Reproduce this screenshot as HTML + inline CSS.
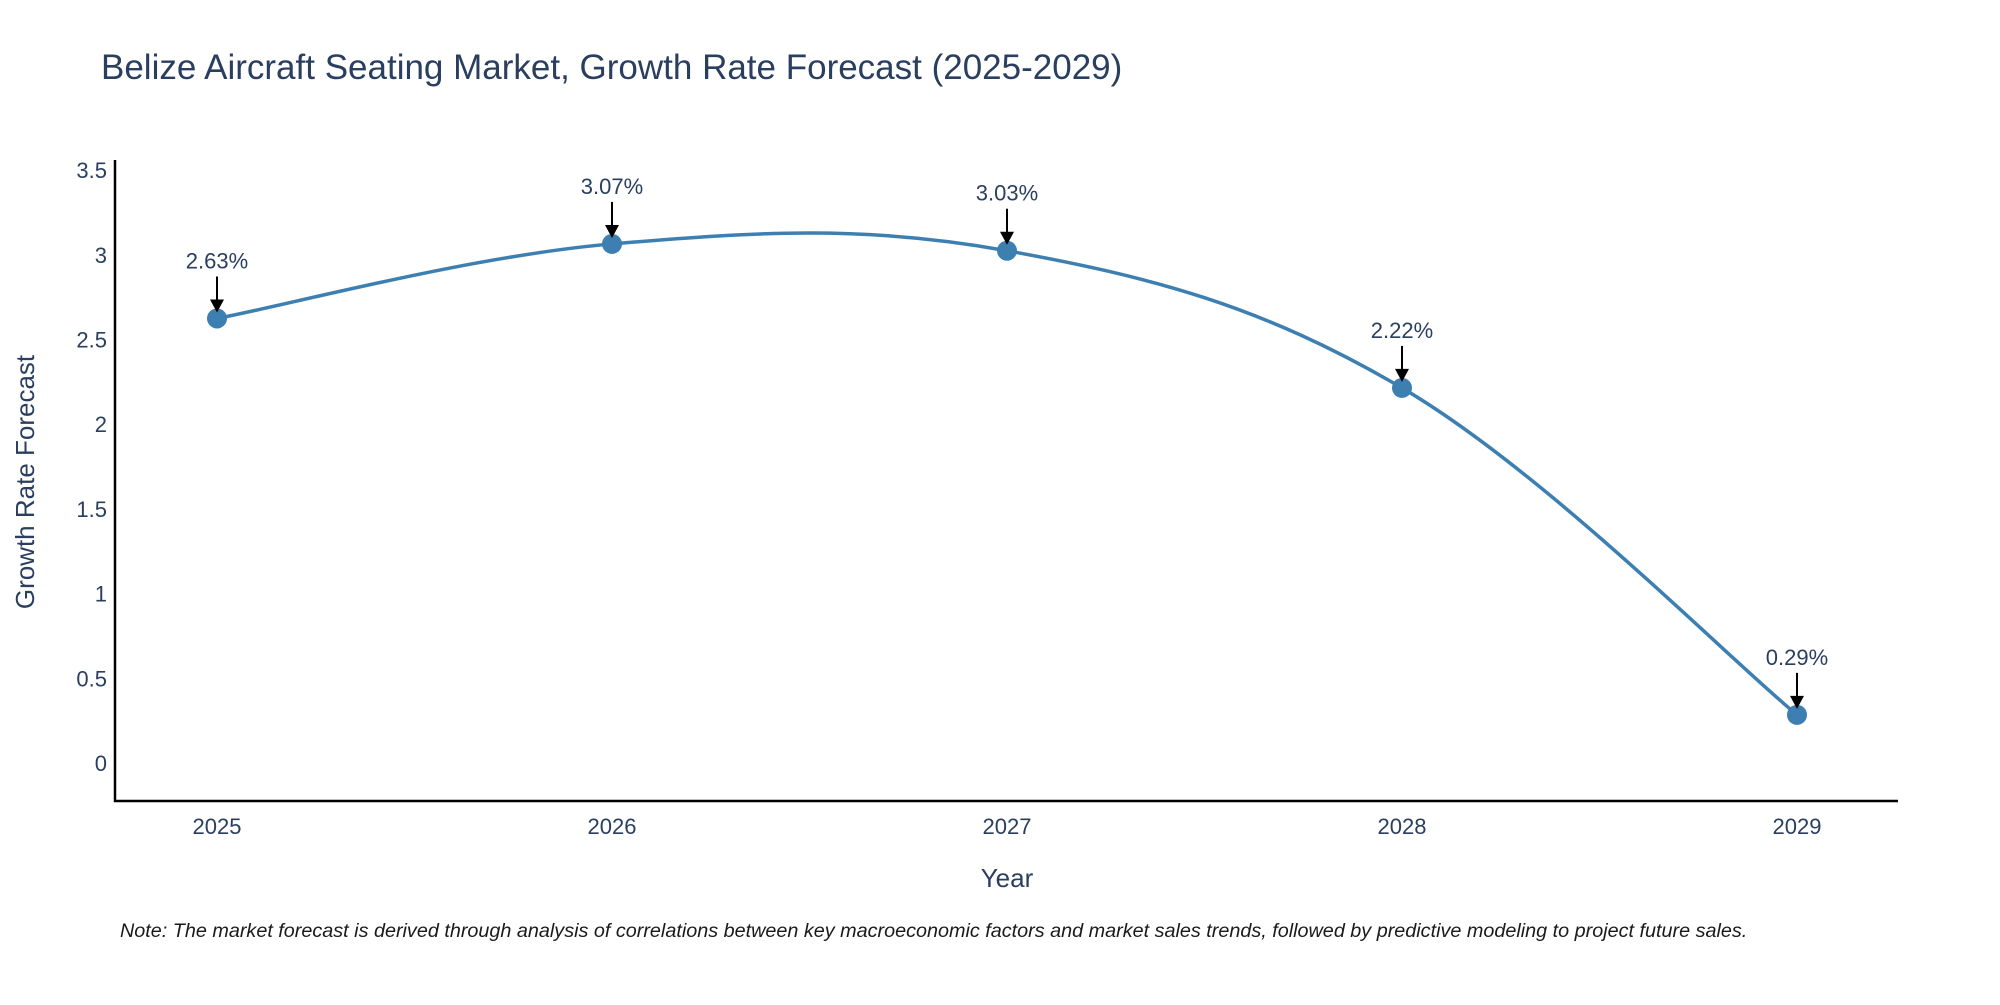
<!DOCTYPE html>
<html><head><meta charset="utf-8"><style>
body{margin:0;background:#fff;}
svg text{font-family:"Liberation Sans",sans-serif;}
</style></head><body>
<svg id="chart" width="2000" height="1000" viewBox="0 0 2000 1000" xmlns="http://www.w3.org/2000/svg">
<rect width="2000" height="1000" fill="#fff"/>
<text x="101" y="79" font-size="35" fill="#2a3f5f">Belize Aircraft Seating Market, Growth Rate Forecast (2025-2029)</text>
<g id="yticks"></g>
<g id="xticks"></g>
<line x1="115" y1="160" x2="115" y2="802" stroke="#000" stroke-width="2.5"/>
<line x1="114" y1="801" x2="1898" y2="801" stroke="#000" stroke-width="2.5"/>
<text x="0" y="0" transform="translate(34,482) rotate(-90)" text-anchor="middle" font-size="26" fill="#2a3f5f">Growth Rate Forecast</text>
<text x="1007" y="887" text-anchor="middle" font-size="26" fill="#2a3f5f">Year</text>
<path id="line" fill="none" stroke="#3d7fb1" stroke-width="3.5"/>
<g id="points"></g>
<g id="annots"></g>
<text x="120" y="937" font-size="19.8" font-style="italic" fill="#1a1a1a">Note: The market forecast is derived through analysis of correlations between key macroeconomic factors and market sales trends, followed by predictive modeling to project future sales.</text>
</svg>
<script>
const years = ["2025","2026","2027","2028","2029"];
const growth = [2.63, 3.07, 3.03, 2.22, 0.29];
const labels = ["2.63%","3.07%","3.03%","2.22%","0.29%"];
const yTicks = [0,0.5,1,1.5,2,2.5,3,3.5];
const yTickLabels = ["0","0.5","1","1.5","2","2.5","3","3.5"];

const NS="http://www.w3.org/2000/svg";
function xs(i){return 217+i*395;}
function ys(v){return 764-v*169.4;}
function mk(t,a,p){const e=document.createElementNS(NS,t);for(const k in a)e.setAttribute(k,a[k]);p.appendChild(e);return e;}

const yg=document.getElementById('yticks');
yTicks.forEach((v,i)=>{
  const t=mk('text',{x:107,y:ys(v)+7,'text-anchor':'end','font-size':22,fill:'#2a3f5f'},yg);
  
  
  t.textContent=yTickLabels[i];
});
const xg=document.getElementById('xticks');
years.forEach((y,i)=>{
  const t=mk('text',{x:xs(i),y:834,'text-anchor':'middle','font-size':22,fill:'#2a3f5f'},xg);
  
  
  t.textContent=y;
});

const P=growth.map((v,i)=>[xs(i),ys(v)]);
let d=`M${P[0][0]},${P[0][1]}`;
const s=0.18;
for(let i=0;i<P.length-1;i++){
  const p0=P[Math.max(0,i-1)],p1=P[i],p2=P[i+1],p3=P[Math.min(P.length-1,i+2)];
  const c1=[p1[0]+(p2[0]-p0[0])*s,p1[1]+(p2[1]-p0[1])*s];
  const c2=[p2[0]-(p3[0]-p1[0])*s,p2[1]-(p3[1]-p1[1])*s];
  d+=` C${c1[0]},${c1[1]} ${c2[0]},${c2[1]} ${p2[0]},${p2[1]}`;
}
document.getElementById('line').setAttribute('d',d);

const pg=document.getElementById('points'),ag=document.getElementById('annots');
P.forEach((p,i)=>{
  const c=mk('circle',{cx:p[0],cy:p[1],r:10,fill:'#3d7fb1'},pg);
  
  
  const l=mk('line',{x1:p[0],y1:p[1]-42,x2:p[0],y2:p[1]-14,stroke:'#000','stroke-width':2},ag);
  
  
  const h=mk('path',{d:`M${p[0]-7},${p[1]-19} L${p[0]+7},${p[1]-19} L${p[0]},${p[1]-6} Z`,fill:'#000'},ag);
  
  
  const t=mk('text',{x:p[0],y:p[1]-50,'text-anchor':'middle','font-size':22,fill:'#2a3f5f'},ag);
  
  
  t.textContent=labels[i];
});
</script>
</body></html>
